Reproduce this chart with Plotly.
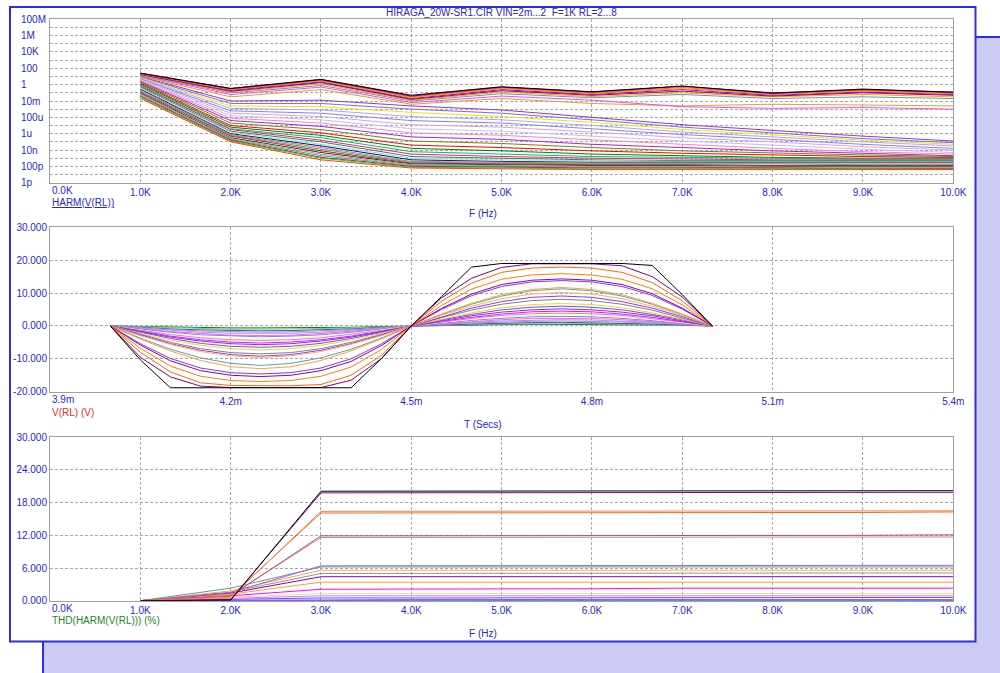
import plotly.graph_objects as go

W, H = 1000, 673

# ---------------------------------------------------------------
# HARM(V(RL)) : harmonic magnitudes (V) at 1K..10K, one row per run
# ---------------------------------------------------------------
harm_freq = [1000, 2000, 3000, 4000, 5000, 6000, 7000, 8000, 9000, 10000]

harm_upper = [
    [2.6e1, 3.5e-1, 4.5, 5.0e-2, 5.5e-1, 1.35e-1, 6.8e-1, 8.7e-2, 2.9e-1, 1.15e-1],
    [2.5e1, 3.2e-1, 4.0, 4.0e-2, 5.0e-1, 1.26e-1, 6.3e-1, 1.0e-1, 2.5e-1, 1.26e-1],
    [2.3e1, 2.8e-1, 3.5, 3.2e-2, 4.0e-1, 1.0e-1, 4.5e-1, 7.9e-2, 2.0e-1, 1.0e-1],
    [2.1e1, 2.5e-1, 2.8, 2.5e-2, 3.2e-1, 7.9e-2, 3.2e-1, 6.3e-2, 1.6e-1, 7.9e-2],
    [1.9e1, 2.0e-1, 2.2, 2.0e-2, 2.5e-1, 6.3e-2, 2.5e-1, 5.0e-2, 1.26e-1, 6.3e-2],
    [1.7e1, 1.6e-1, 1.8, 1.6e-2, 1.8e-1, 5.0e-2, 1.6e-1, 4.0e-2, 1.0e-1, 5.0e-2],
    [1.6e1, 1.26e-1, 1.26, 1.26e-2, 1.26e-1, 3.5e-2, 1.0e-1, 3.2e-2, 6.3e-2, 3.2e-2],
    [1.4e1, 1.0e-1, 7.9e-1, 1.0e-2, 7.9e-2, 2.5e-2, 6.3e-2, 2.0e-2, 3.2e-2, 2.0e-2],
    [1.26e1, 6.3e-2, 5.0e-1, 6.3e-3, 4.0e-2, 1.26e-2, 2.0e-3, 1.26e-3, 1.6e-3, 1.0e-3],
    [1.1e1, 3.2e-2, 2.5e-1, 4.0e-3, 2.0e-2, 5.0e-3, 2.5e-3, 4.0e-3, 3.2e-3, 2.5e-3],
]

harm_middle = [
    [10.0, 1.0e-2, 1.26e-2, 2.5e-3, 7.9e-4, 1.0e-4, 1.26e-5, 2.5e-6, 5.0e-7, 1.26e-7],
    [8.3, 5.0e-3, 5.0e-3, 1.0e-3, 3.2e-4, 5.0e-5, 6.3e-6, 1.26e-6, 2.5e-7, 7.9e-8],
    [7.1, 2.5e-3, 2.0e-3, 4.0e-4, 1.26e-4, 2.5e-5, 3.2e-6, 7.9e-7, 1.6e-7, 5.0e-8],
    [6.0, 1.26e-3, 7.9e-4, 1.26e-4, 5.0e-5, 1.0e-5, 1.6e-6, 4.0e-7, 1.0e-7, 3.2e-8],
    [5.0, 6.3e-4, 3.2e-4, 4.0e-5, 2.0e-5, 4.0e-6, 7.9e-7, 2.0e-7, 5.0e-8, 1.6e-8],
    [4.2, 3.2e-4, 1.26e-4, 1.26e-5, 6.3e-6, 1.6e-6, 3.2e-7, 1.0e-7, 2.5e-8, 1.0e-8],
    [3.5, 1.6e-4, 5.0e-5, 4.0e-6, 2.0e-6, 5.0e-7, 1.26e-7, 4.0e-8, 1.26e-8, 5.0e-9],
    [3.0, 7.9e-5, 2.0e-5, 1.26e-6, 6.3e-7, 1.6e-7, 5.0e-8, 1.6e-8, 6.3e-9, 3.2e-9],
    [2.5, 4.0e-5, 7.9e-6, 4.0e-7, 2.0e-7, 5.0e-8, 2.0e-8, 7.9e-9, 4.0e-9, 2.0e-9],
    [2.1, 2.0e-5, 3.2e-6, 1.26e-7, 6.3e-8, 2.0e-8, 7.9e-9, 4.0e-9, 2.5e-9, 1.6e-9],
]

harm_floor = [
    [1.6, 1.0e-5, 1.26e-6, 4.0e-8, 2.0e-8, 7.9e-9, 4.0e-9, 2.5e-9, 1.6e-9, 1.26e-9],
    [1.2, 6.3e-6, 6.3e-7, 1.6e-8, 7.9e-9, 3.2e-9, 2.0e-9, 1.26e-9, 1.0e-9, 1.0e-9],
    [8.9e-1, 4.0e-6, 3.2e-7, 6.3e-9, 3.2e-9, 1.6e-9, 1.26e-9, 1.0e-9, 7.9e-10, 7.9e-10],
    [6.8e-1, 3.2e-6, 1.6e-7, 3.2e-9, 1.6e-9, 1.0e-9, 7.9e-10, 6.3e-10, 6.3e-10, 6.3e-10],
    [5.0e-1, 2.0e-6, 1.0e-7, 1.6e-9, 1.0e-9, 6.3e-10, 5.0e-10, 5.0e-10, 5.0e-10, 5.0e-10],
    [3.8e-1, 1.6e-6, 5.0e-8, 1.0e-9, 6.3e-10, 5.0e-10, 4.0e-10, 4.0e-10, 4.0e-10, 4.0e-10],
    [2.8e-1, 1.0e-6, 3.2e-8, 6.3e-10, 4.0e-10, 3.2e-10, 3.2e-10, 3.2e-10, 3.2e-10, 3.2e-10],
    [2.1e-1, 7.9e-7, 2.0e-8, 4.0e-10, 3.2e-10, 2.5e-10, 2.5e-10, 2.5e-10, 2.5e-10, 2.5e-10],
    [1.6e-1, 6.3e-7, 1.26e-8, 3.2e-10, 2.5e-10, 2.0e-10, 2.0e-10, 2.0e-10, 1.6e-10, 1.6e-10],
    [1.2e-1, 5.0e-7, 7.9e-9, 2.5e-10, 2.0e-10, 1.6e-10, 1.6e-10, 1.26e-10, 1.26e-10, 1.26e-10],
    [8.9e-2, 3.2e-7, 5.0e-9, 2.0e-10, 1.6e-10, 1.26e-10, 1.26e-10, 1.0e-10, 1.0e-10, 1.0e-10],
    [6.8e-2, 2.5e-7, 3.2e-9, 1.6e-10, 1.26e-10, 1.0e-10, 1.0e-10, 7.9e-11, 7.9e-11, 7.9e-11],
    [5.0e-2, 2.0e-7, 2.0e-9, 1.26e-10, 1.0e-10, 7.9e-11, 7.9e-11, 6.3e-11, 6.3e-11, 6.3e-11],
    [3.8e-2, 1.6e-7, 1.26e-9, 1.0e-10, 7.9e-11, 6.3e-11, 6.3e-11, 6.3e-11, 5.0e-11, 5.0e-11],
    [2.8e-2, 1.26e-7, 1.0e-9, 7.9e-11, 6.3e-11, 5.0e-11, 5.0e-11, 5.0e-11, 5.0e-11, 4.0e-11],
    [2.1e-2, 1.0e-7, 6.3e-10, 6.3e-11, 5.0e-11, 4.0e-11, 4.0e-11, 4.0e-11, 4.0e-11, 4.0e-11],
]

harm_upper_colors = ['#000000', '#800080', '#FF6600', '#FF8C00', '#9400D3',
                     '#8B008B', '#FFA500', '#5F9EA0', '#FF40FF', '#DAA520']
harm_middle_colors = ['#9932CC', '#7B68EE', '#E8E800', '#B0A0FF', '#8080FF',
                      '#DDA0DD', '#C0C0FF', '#FF80C0', '#A020F0', '#808000']
harm_floor_colors = ['#FF0000', '#008000', '#00C060', '#FF1493', '#2E8B57', '#90EE90',
                     '#0000FF', '#CD853F', '#3CB371', '#DC143C', '#006400', '#FF69B4',
                     '#20B2AA', '#B22222', '#32CD32', '#FF4500']

harm_tick_labels = ['1p', '100p', '10n', '1u', '100u', '10m', '1', '100', '10K', '1M', '100M']
harm_tick_exp = [-12, -10, -8, -6, -4, -2, 0, 2, 4, 6, 8]

# ---------------------------------------------------------------
# V(RL) transient (V) against time (ms), one row per run
# ---------------------------------------------------------------
trans_time_ms = [4.00, 4.05, 4.10, 4.15, 4.20, 4.25, 4.30, 4.35, 4.40, 4.45, 4.50,
                 4.55, 4.60, 4.65, 4.70, 4.75, 4.80, 4.85, 4.90, 4.95, 5.00]

trans_runs = [
    [0, -10.3, -18.8, -18.8, -18.8, -18.8, -18.8, -18.8, -18.8, -10.0, 0, 8.9, 17.9, 19.0, 19.0, 19.0, 19.0, 19.0, 18.4, 9.5, 0],
    [0, -9.5, -15.5, -18.3, -18.75, -18.75, -18.75, -18.75, -16.5, -10.0, 0, 8.5, 14.5, 17.8, 18.9, 18.9, 18.9, 18.3, 15.0, 8.8, 0],
    [0, -8.0, -14.0, -17.3, -18.1, -18.2, -18.2, -17.8, -15.0, -9.0, 0, 7.5, 13.0, 16.3, 17.6, 17.9, 17.6, 16.3, 13.2, 7.6, 0],
    [0, -6.8, -12.2, -15.3, -16.6, -16.9, -16.6, -15.3, -12.5, -7.2, 0, 6.2, 11.2, 14.2, 15.5, 15.9, 15.5, 14.2, 11.3, 6.4, 0],
    [0, -5.8, -10.6, -13.6, -15.0, -15.4, -15.0, -13.6, -10.8, -6.0, 0, 5.3, 9.7, 12.6, 13.9, 14.3, 13.9, 12.6, 9.8, 5.4, 0],
    [0, -5.4, -9.9, -12.8, -14.2, -14.6, -14.2, -12.8, -10.0, -5.5, 0, 5.0, 9.2, 12.0, 13.4, 13.8, 13.4, 12.0, 9.3, 5.1, 0],
    [0, -4.0, -7.6, -10.5, -12.4, -13.0, -12.4, -10.5, -7.6, -4.0, 0, 3.6, 6.9, 9.5, 11.1, 11.7, 11.1, 9.5, 6.9, 3.6, 0],
    [0, -3.7, -7.1, -9.7, -11.4, -12.0, -11.4, -9.7, -7.1, -3.7, 0, 3.5, 6.6, 9.1, 10.7, 11.3, 10.7, 9.1, 6.6, 3.5, 0],
    [0, -3.0, -5.6, -7.8, -9.1, -9.6, -9.1, -7.8, -5.6, -3.0, 0, 3.2, 6.0, 8.3, 9.7, 10.2, 9.7, 8.3, 6.0, 3.2, 0],
    [0, -2.8, -5.4, -7.4, -8.7, -9.2, -8.7, -7.4, -5.4, -2.8, 0, 2.8, 5.4, 7.4, 8.7, 9.1, 8.7, 7.4, 5.4, 2.8, 0],
    [0, -2.6, -5.0, -6.9, -8.1, -8.5, -8.1, -6.9, -5.0, -2.6, 0, 2.5, 4.8, 6.6, 7.7, 8.1, 7.7, 6.6, 4.8, 2.5, 0],
    [0, -2.3, -4.3, -5.9, -6.9, -7.3, -6.9, -5.9, -4.3, -2.3, 0, 2.1, 4.0, 5.5, 6.5, 6.8, 6.5, 5.5, 4.0, 2.1, 0],
    [0, -2.0, -3.8, -5.3, -6.2, -6.5, -6.2, -5.3, -3.8, -2.0, 0, 1.9, 3.5, 4.9, 5.7, 6.0, 5.7, 4.9, 3.5, 1.9, 0],
    [0, -1.8, -3.4, -4.6, -5.4, -5.7, -5.4, -4.6, -3.4, -1.8, 0, 1.6, 3.1, 4.2, 4.9, 5.2, 4.9, 4.2, 3.1, 1.6, 0],
    [0, -1.6, -3.1, -4.2, -4.9, -5.2, -4.9, -4.2, -3.1, -1.6, 0, 1.4, 2.6, 3.6, 4.3, 4.5, 4.3, 3.6, 2.6, 1.4, 0],
    [0, -1.4, -2.6, -3.6, -4.2, -4.4, -4.2, -3.6, -2.6, -1.4, 0, 1.2, 2.3, 3.2, 3.7, 3.9, 3.7, 3.2, 2.3, 1.2, 0],
    [0, -1.2, -2.4, -3.2, -3.8, -4.0, -3.8, -3.2, -2.4, -1.2, 0, 1.1, 2.0, 2.8, 3.2, 3.4, 3.2, 2.8, 2.0, 1.1, 0],
    [0, -1.0, -1.9, -2.7, -3.1, -3.3, -3.1, -2.7, -1.9, -1.0, 0, 0.9, 1.7, 2.3, 2.8, 2.9, 2.8, 2.3, 1.7, 0.9, 0],
    [0, -0.9, -1.7, -2.3, -2.8, -2.9, -2.8, -2.3, -1.7, -0.9, 0, 0.7, 1.4, 1.9, 2.3, 2.4, 2.3, 1.9, 1.4, 0.7, 0],
    [0, -0.7, -1.4, -1.9, -2.2, -2.3, -2.2, -1.9, -1.4, -0.7, 0, 0.6, 1.1, 1.5, 1.8, 1.9, 1.8, 1.5, 1.1, 0.6, 0],
    [0, -0.6, -1.1, -1.5, -1.8, -1.9, -1.8, -1.5, -1.1, -0.6, 0, 0.5, 0.9, 1.2, 1.4, 1.5, 1.4, 1.2, 0.9, 0.5, 0],
    [0, -0.5, -0.9, -1.2, -1.4, -1.5, -1.4, -1.2, -0.9, -0.5, 0, 0.3, 0.6, 0.9, 1.0, 1.1, 1.0, 0.9, 0.6, 0.3, 0],
    [0, -0.3, -0.6, -0.8, -1.0, -1.0, -1.0, -0.8, -0.6, -0.3, 0, 0.2, 0.4, 0.6, 0.7, 0.7, 0.7, 0.6, 0.4, 0.2, 0],
    [0, -0.2, -0.4, -0.5, -0.6, -0.6, -0.6, -0.5, -0.4, -0.2, 0, 0.2, 0.3, 0.4, 0.5, 0.5, 0.5, 0.4, 0.3, 0.2, 0],
]

trans_colors = ['#000000', '#800080', '#FF6600', '#FF7F00', '#8000C0', '#9933CC',
                '#FFA040', '#5F9EA0', '#FFB060', '#9B30FF', '#808080', '#F0D040',
                '#6A5ACD', '#8A2BE2', '#FF00FF', '#B088FF', '#FFFF66', '#8080FF',
                '#FF66CC', '#C080FF', '#A0A0A0', '#4040FF', '#60E060', '#008000']

trans_tick_vals = [3.9, 4.2, 4.5, 4.8, 5.1, 5.4]
trans_tick_text = ['', '4.2m', '4.5m', '4.8m', '5.1m', '5.4m']
trans_y_vals = [-20, -10, 0, 10, 20, 30]
trans_y_text = ['-20.000', '-10.000', '0.000', '10.000', '20.000', '30.000']

# ---------------------------------------------------------------
# THD(HARM(V(RL))) (%) at 1K..10K, one row per run
# ---------------------------------------------------------------
thd_runs = [
    [0, 0.1, 20.1, 20.1, 20.1, 20.1, 20.2, 20.2, 20.2, 20.2],
    [0, 0.2, 19.8, 19.8, 19.8, 19.8, 19.8, 19.8, 19.8, 19.9],
    [0, 0.6, 16.4, 16.4, 16.4, 16.4, 16.5, 16.5, 16.5, 16.5],
    [0, 0.8, 16.1, 16.1, 16.2, 16.2, 16.2, 16.2, 16.2, 16.3],
    [0, 0.9, 11.9, 11.9, 11.9, 12.0, 12.0, 12.0, 12.0, 12.1],
    [0, 1.0, 11.6, 11.6, 11.6, 11.7, 11.7, 11.7, 11.7, 11.7],
    [0, 1.5, 6.4, 6.4, 6.5, 6.5, 6.5, 6.5, 6.5, 6.5],
    [0, 2.3, 6.2, 6.2, 6.2, 6.2, 6.2, 6.2, 6.2, 6.2],
    [0, 1.8, 5.6, 5.6, 5.6, 5.6, 5.6, 5.6, 5.6, 5.6],
    [0, 1.6, 5.0, 5.0, 5.0, 5.1, 5.1, 5.1, 5.1, 5.1],
    [0, 1.4, 4.4, 4.4, 4.4, 4.4, 4.4, 4.4, 4.4, 4.4],
    [0, 1.2, 3.4, 3.4, 3.4, 3.4, 3.4, 3.4, 3.4, 3.4],
    [0, 0.9, 2.1, 2.1, 2.1, 2.2, 2.3, 2.3, 2.3, 2.3],
    [0, 0.6, 1.3, 1.3, 1.3, 1.3, 1.3, 1.3, 1.3, 1.3],
    [0, 0.4, 0.9, 0.9, 0.9, 0.9, 0.9, 0.9, 0.9, 0.9],
    [0, 0.3, 0.5, 0.5, 0.5, 0.6, 0.6, 0.6, 0.6, 0.6],
    [0, 0.1, 0.2, 0.2, 0.2, 0.2, 0.2, 0.2, 0.2, 0.2],
    [0, 0.05, 0.05, 0.05, 0.05, 0.05, 0.05, 0.05, 0.05, 0.05],
]

thd_colors = ['#000000', '#800080', '#FF8040', '#E07020', '#C040A0', '#B89A80',
              '#9966CC', '#5F9EA0', '#FFA060', '#A09080', '#8000C0', '#FFA020',
              '#FF00FF', '#F0E080', '#C080FF', '#9933FF', '#6060FF', '#4040FF']

freq_tick_vals = [0, 1000, 2000, 3000, 4000, 5000, 6000, 7000, 8000, 9000, 10000]
freq_tick_text = ['', '1.0K', '2.0K', '3.0K', '4.0K', '5.0K', '6.0K', '7.0K', '8.0K', '9.0K', '10.0K']
thd_y_vals = [0, 6, 12, 18, 24, 30]
thd_y_text = ['0.000', '6.000', '12.000', '18.000', '24.000', '30.000']

# ---------------------------------------------------------------
# styling
# ---------------------------------------------------------------
FONT = 'Liberation Sans, Arial, sans-serif'
BLUE = '#2828C8'
FRAME_BLUE = '#2E2EE0'
LAVENDER = '#CBCBF5'
GRID = '#A8A8A8'


def px(x):
    return x / W


def py(y):
    return 1 - y / H


X0, X1 = px(50), px(953.3)
TOP = (py(182.7), py(19.3))
MID = (py(391.7), py(227.3))
BOT = (py(600.7), py(437.3))

axis_style = dict(showline=True, linecolor='#A0A0A0', linewidth=1, mirror=True,
                  showgrid=True, gridcolor=GRID, griddash='3px,2px', gridwidth=1,
                  zeroline=False, ticks='', automargin=False,
                  tickfont=dict(family=FONT, size=10, color=BLUE))

fig = go.Figure()

# harmonic traces: low-level runs first so the large runs are drawn on top
harm_all = list(zip(harm_floor, harm_floor_colors)) + \
    list(zip(harm_middle, harm_middle_colors)) + \
    list(zip(harm_upper[::-1], harm_upper_colors[::-1]))
for row, col in harm_all:
    fig.add_trace(go.Scatter(x=harm_freq, y=row, mode='lines',
                             line=dict(color=col, width=1),
                             xaxis='x', yaxis='y', showlegend=False, hoverinfo='skip'))

for row, col in list(zip(trans_runs, trans_colors))[::-1]:
    fig.add_trace(go.Scatter(x=trans_time_ms, y=row, mode='lines',
                             line=dict(color=col, width=1),
                             xaxis='x2', yaxis='y2', showlegend=False, hoverinfo='skip'))

for row, col in list(zip(thd_runs, thd_colors))[::-1]:
    fig.add_trace(go.Scatter(x=harm_freq, y=row, mode='lines',
                             line=dict(color=col, width=1),
                             xaxis='x3', yaxis='y3', showlegend=False, hoverinfo='skip'))

decades = [10.0 ** k for k in range(-12, 9)]

fig.update_layout(
    width=W, height=H, autosize=False,
    margin=dict(l=0, r=0, t=0, b=0, pad=0, autoexpand=False),
    paper_bgcolor='white', plot_bgcolor='rgba(0,0,0,0)',
    font=dict(family=FONT, size=10, color=BLUE),
    xaxis=dict(domain=[X0, X1], anchor='y', range=[0, 10000],
               tickvals=freq_tick_vals, ticktext=freq_tick_text, **axis_style),
    yaxis=dict(domain=list(TOP), anchor='x', type='log', range=[-12, 8],
               tickvals=decades, showticklabels=False, **axis_style),
    xaxis2=dict(domain=[X0, X1], anchor='y2', range=[3.9, 5.4],
                tickvals=trans_tick_vals, ticktext=trans_tick_text, **axis_style),
    yaxis2=dict(domain=list(MID), anchor='x2', range=[-20, 30],
                tickvals=trans_y_vals, ticktext=trans_y_text, **axis_style),
    xaxis3=dict(domain=[X0, X1], anchor='y3', range=[0, 10000],
                tickvals=freq_tick_vals, ticktext=freq_tick_text, **axis_style),
    yaxis3=dict(domain=list(BOT), anchor='x3', range=[0, 30],
                tickvals=thd_y_vals, ticktext=thd_y_text, **axis_style),
)

# page frame: shadow panel and white sheet
fig.add_shape(type='rect', xref='paper', yref='paper', layer='below',
              x0=px(43), x1=1.02, y0=-0.02, y1=py(37),
              fillcolor=LAVENDER, line=dict(color=FRAME_BLUE, width=2))
fig.add_shape(type='rect', xref='paper', yref='paper', layer='below',
              x0=px(10), x1=px(975.5), y0=py(641.5), y1=py(7),
              fillcolor='white', line=dict(color=FRAME_BLUE, width=2))

ann = []
# run title
ann.append(dict(text='HIRAGA_20W-SR1.CIR VIN=2m...2\u00a0 F=1K RL=2...8',
                xref='paper', yref='paper', x=px(501), y=py(12.5),
                xanchor='center', yanchor='middle', showarrow=False,
                font=dict(family=FONT, size=10, color=BLUE)))
# log-axis labels of the harmonic plot (left aligned)
for lab, e in zip(harm_tick_labels, harm_tick_exp):
    ann.append(dict(text=lab, xref='paper', yref='y', x=px(19), y=e,
                    xanchor='left', yanchor='middle', showarrow=False,
                    font=dict(family=FONT, size=10, color=BLUE)))
# first x tick labels, aligned to the left edge of each plot
for text, ypx in [('0.0K', 190), ('3.9m', 399.7), ('0.0K', 608.7)]:
    ann.append(dict(text=text, xref='paper', yref='paper', x=X0, y=py(ypx),
                    xanchor='left', yanchor='middle', showarrow=False,
                    font=dict(family=FONT, size=10, color=BLUE)))
# expression labels and x-axis names
labels = [
    ('<u>HARM(V(RL))</u>', px(50), py(202), 'left', BLUE),
    ('F (Hz)', px(483), py(213.5), 'center', BLUE),
    ('V(RL) (V)', px(50), py(412), 'left', '#E03030'),
    ('T (Secs)', px(483), py(424), 'center', BLUE),
    ('THD(HARM(V(RL))) (%)', px(50), py(620.5), 'left', '#208A20'),
    ('F (Hz)', px(483), py(633), 'center', BLUE),
]
for text, x, y, xa, col in labels:
    ann.append(dict(text=text, xref='paper', yref='paper', x=x, y=y,
                    xanchor=xa, yanchor='middle', showarrow=False,
                    font=dict(family=FONT, size=10, color=col)))
fig.update_layout(annotations=ann)

fig.write_html('out.html')
